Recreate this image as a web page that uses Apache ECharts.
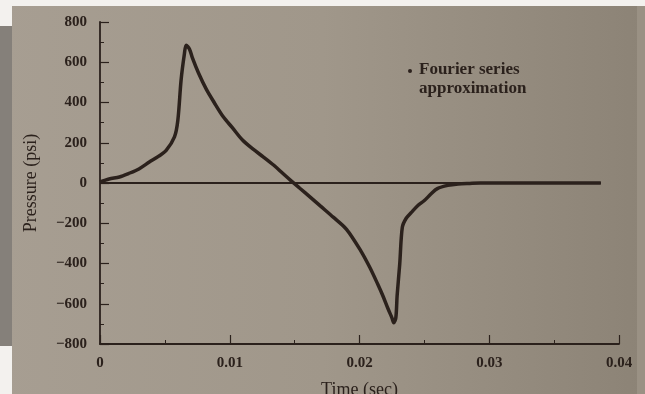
<!DOCTYPE html>
<html>
<head>
<meta charset="utf-8">
<script src="https://cdn.jsdelivr.net/npm/echarts@6/dist/echarts.min.js"></script>
<style>html,body{margin:0;padding:0;}#c{width:645px;height:394px;}</style>
</head>
<body>
<div id="c"></div>
<script>
// Time (sec) samples of the Fourier series approximation
const timeSec = [0, 0.0007, 0.0015, 0.0022, 0.003, 0.0038, 0.0045, 0.0051, 0.00574, 0.006, 0.00625, 0.0065, 0.00664, 0.0069, 0.00713, 0.0076, 0.0082, 0.0088, 0.0095, 0.0102, 0.011, 0.0118, 0.0126, 0.0134, 0.0141, 0.0148, 0.0154, 0.0162, 0.017, 0.018, 0.019, 0.0201, 0.0208, 0.0214, 0.0218, 0.0222, 0.0225, 0.02264, 0.0228, 0.0229, 0.0231, 0.0233, 0.0236, 0.024, 0.0245, 0.025, 0.0255, 0.026, 0.0268, 0.0276, 0.0285, 0.0293, 0.031, 0.034, 0.0386];
// Pressure (psi)
const pressurePsi = [5, 20, 30, 47, 70, 104, 132, 162, 229, 312, 512, 640, 685, 665, 620, 545, 465, 400, 329, 275, 212, 168, 129, 88, 47, 7, -26, -70, -115, -171, -230, -337, -420, -502, -560, -625, -670, -695, -670, -560, -403, -220, -175, -146, -112, -87, -55, -28, -12, -5, -2, 0, 0, 0, 0];
// zero reference line
const zeroLineT = [0, 0.0386];
const zeroLineP = [0, 0];
const yTicks = [-800, -600, -400, -200, 0, 200, 400, 600, 800];
const xTicks = [0, 0.01, 0.02, 0.03, 0.04];

const ink = '#2b211c';
const serif = '"Liberation Serif", "DejaVu Serif", serif';
const chart = echarts.init(document.getElementById('c'));
chart.setOption({
  backgroundColor: {
    type: 'linear', x: 0, y: 0, x2: 1, y2: 0,
    colorStops: [{offset: 0, color: '#a79e92'}, {offset: 0.5, color: '#a0978a'}, {offset: 1, color: '#8c8376'}]
  },
  animation: false,
  graphic: [
    {type: 'rect', shape: {x: 0, y: 0, width: 645, height: 6}, style: {fill: '#f3f1ee'}, z: -1},
    {type: 'rect', shape: {x: 0, y: 0, width: 12, height: 26}, style: {fill: '#f3f1ee'}, z: -1},
    {type: 'rect', shape: {x: 0, y: 26, width: 12, height: 320}, style: {fill: '#85807a'}, z: -1},
    {type: 'rect', shape: {x: 0, y: 346, width: 12, height: 48}, style: {fill: '#f3f1ee'}, z: -1},
    {type: 'rect', shape: {x: 637, y: 6, width: 8, height: 388}, style: {fill: '#9a9184'}, z: -1},
    {type: 'circle', shape: {cx: 410, cy: 71, r: 2}, style: {fill: ink}},
    {type: 'text', left: 419, top: 60, style: {text: 'Fourier series\napproximation', fill: ink, font: 'bold 17px ' + serif, lineHeight: 19}}
  ],
  grid: {left: 100, right: 26, top: 22, bottom: 50, outerBoundsMode: 'none', containLabel: false},
  xAxis: {
    type: 'value', min: 0, max: 0.04, interval: 0.01,
    name: 'Time (sec)', nameLocation: 'middle', nameGap: 37,
    nameTextStyle: {color: ink, fontFamily: serif, fontSize: 18},
    axisLine: {onZero: false, lineStyle: {color: ink, width: 1.8}},
    axisTick: {inside: true, length: 9, lineStyle: {color: ink, width: 1.2}},
    minorTick: {show: true, splitNumber: 2, length: 4, lineStyle: {color: ink}},
    splitLine: {show: false},
    axisLabel: {color: ink, fontFamily: serif, fontSize: 15, fontWeight: 'bold', margin: 12,
      formatter: v => v === 0 ? '0' : String(+v.toFixed(2))}
  },
  yAxis: {
    type: 'value', min: -800, max: 800, interval: 200,
    name: 'Pressure (psi)', nameLocation: 'middle', nameGap: 60, nameRotate: 90,
    nameTextStyle: {color: ink, fontFamily: serif, fontSize: 18},
    axisLine: {show: true, lineStyle: {color: ink, width: 1.8}},
    axisTick: {inside: true, length: 9, lineStyle: {color: ink, width: 1.2}},
    minorTick: {show: true, splitNumber: 2, length: 4, lineStyle: {color: ink}},
    splitLine: {show: false},
    axisLabel: {color: ink, fontFamily: serif, fontSize: 15, fontWeight: 'bold', margin: 13,
      formatter: v => v < 0 ? '\u2212' + Math.abs(v) : String(v)}
  },
  series: [
    {type: 'line', data: zeroLineT.map((t, i) => [t, zeroLineP[i]]), showSymbol: false,
      lineStyle: {color: ink, width: 1.8}, z: 2},
    {type: 'line', name: 'Fourier series approximation', data: timeSec.map((t, i) => [t, pressurePsi[i]]),
      smooth: 0.3, showSymbol: false, lineStyle: {color: ink, width: 3.5}, z: 3}
  ]
});
</script>
</body>
</html>
